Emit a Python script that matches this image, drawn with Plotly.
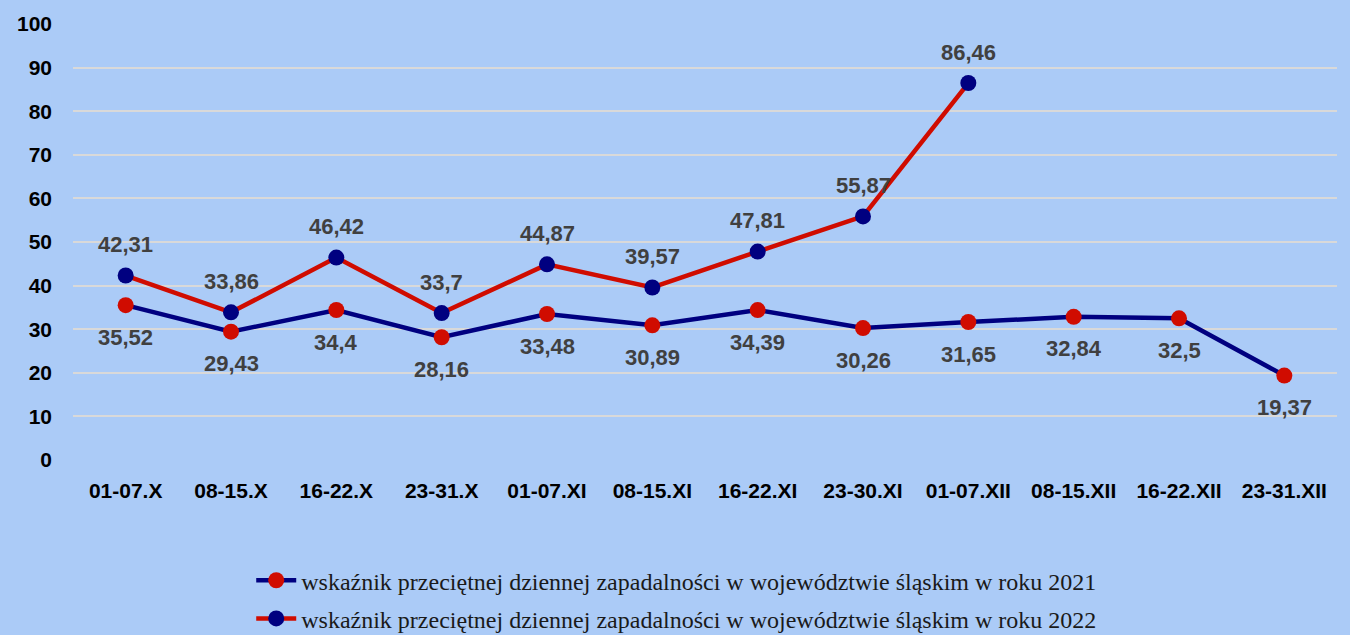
import plotly.graph_objects as go

categories = ["01-07.X", "08-15.X", "16-22.X", "23-31.X", "01-07.XI", "08-15.XI",
              "16-22.XI", "23-30.XI", "01-07.XII", "08-15.XII", "16-22.XII", "23-31.XII"]
values_2021 = [35.52, 29.43, 34.4, 28.16, 33.48, 30.89, 34.39, 30.26, 31.65, 32.84, 32.5, 19.37]
values_2022 = [42.31, 33.86, 46.42, 33.7, 44.87, 39.57, 47.81, 55.87, 86.46, None, None, None]
name_2021 = "wskaźnik przeciętnej dziennej zapadalności w województwie śląskim w roku 2021"
name_2022 = "wskaźnik przeciętnej dziennej zapadalności w województwie śląskim w roku 2022"

NAVY = "#000080"
RED = "#d00c00"
BG = "#abcbf7"

def fmt(v):
    return str(v).replace(".", ",")

fig = go.Figure()
fig.add_trace(go.Scatter(x=categories, y=values_2021, name=name_2021, mode="lines+markers",
                         legendgroup="a",
                         line=dict(color=NAVY, width=4.5),
                         marker=dict(color=RED, size=16)))
fig.add_trace(go.Scatter(x=categories, y=values_2022, name=name_2022, mode="lines+markers",
                         legendgroup="b",
                         line=dict(color=RED, width=4.5),
                         marker=dict(color=NAVY, size=16)))

label_font = dict(family="Liberation Sans, Arial", size=22, color="#404040", weight="bold")
for c, v in zip(categories, values_2021):
    fig.add_annotation(x=c, y=v, text=fmt(v), showarrow=False, yshift=-32, font=label_font)
for c, v in zip(categories, values_2022):
    if v is not None:
        fig.add_annotation(x=c, y=v, text=fmt(v), showarrow=False, yshift=31, font=label_font)

fig.update_layout(
    width=1350, height=635,
    paper_bgcolor=BG, plot_bgcolor=BG,
    margin=dict(l=73, r=13, t=22, b=175),
    showlegend=True,
    legend=dict(x=0.141, y=0.121, xref="paper", yref="container", xanchor="left", yanchor="top",
                font=dict(family="Liberation Serif, Times New Roman", size=24, color="#1a1a1a"),
                bgcolor="rgba(0,0,0,0)", tracegroupgap=4, itemwidth=40),
    xaxis=dict(showgrid=False, zeroline=False, showline=False, ticks="",
               tickfont=dict(family="Liberation Sans, Arial", size=21, color="#000000", weight="bold"),
               range=[-0.5, 11.5], ticklabelstandoff=16),
    yaxis=dict(range=[0, 100], dtick=10, showgrid=True, gridcolor="#d9d9d9", gridwidth=2,
               zeroline=False, showline=False, ticks="",
               tickfont=dict(family="Liberation Sans, Arial", size=21, color="#000000", weight="bold"),
               ticklabelstandoff=20),
)

fig.write_html("out.html", config={"displayModeBar": False},
               post_script="document.body.style.margin='0';document.body.style.overflow='hidden';")
